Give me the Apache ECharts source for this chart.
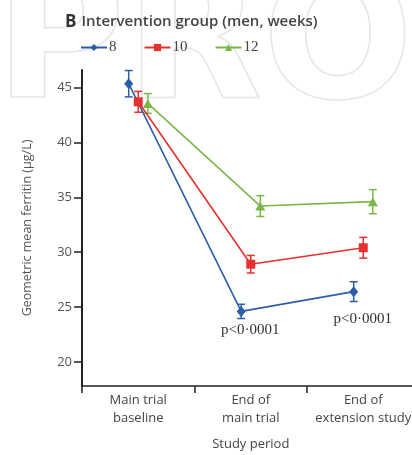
<!DOCTYPE html>
<html>
<head>
<meta charset="utf-8">
<script src="https://cdn.jsdelivr.net/npm/echarts@6/dist/echarts.min.js"></script>
<style>
  html, body { margin: 0; padding: 0; background: #fff; }
  #chart { width: 412px; height: 455px; }
</style>
</head>
<body>
<div id="chart"></div>
<script>
var categories = ['Main trial\nbaseline', 'End of\nmain trial', 'End of\nextension study'];
var groups = ['8', '10', '12'];
var mean8 = [45.35, 24.6, 26.4];
var err8 = [1.2, 0.65, 0.9];
var mean10 = [43.7, 28.9, 30.4];
var err10 = [0.95, 0.8, 0.95];
var mean12 = [43.55, 34.2, 34.6];
var err12 = [0.9, 0.95, 1.1];
var yTicks = [20, 25, 30, 35, 40, 45];
var pLabels = ['', 'p<0·0001', 'p<0·0001'];

(function() {
  var colors = ['#2b5ea7', '#e8302f', '#7ab648'];
  var symbols = ['diamond', 'rect', 'triangle'];
  var symbolSizes = [[9, 11], 9, [10, 9]];
  var dodge = [-0.085, 0, 0.085];
  var means = [mean8, mean10, mean12];
  var errs = [err8, err10, err12];
  var pOffsets = [[0, 0], [9, 19], [9, 27]];

  var chart = echarts.init(document.getElementById('chart'), null, { renderer: 'canvas' });

  var series = [];
  groups.forEach(function(g, s) {
    var pts = means[s].map(function(v, i) { return [i + 0.5 + dodge[s], v]; });
    var lineData = pts.map(function(p, i) {
      var d = { value: p };
      if (s === 0 && pLabels[i]) {
        d.label = {
          show: true, position: 'inside', offset: pOffsets[i],
          formatter: pLabels[i], color: '#333',
          fontFamily: 'Liberation Serif', fontSize: 15
        };
      }
      return d;
    });
    series.push({
      type: 'line',
      name: g,
      data: lineData,
      symbol: symbols[s],
      symbolSize: symbolSizes[s],
      showAllSymbol: true,
      lineStyle: { color: colors[s], width: 1.6 },
      itemStyle: { color: colors[s] },
      z: 4
    });
    // error bars
    series.push({
      type: 'custom',
      name: g + ' ci',
      data: pts.map(function(p, i) { return [p[0], p[1] - errs[s][i], p[1] + errs[s][i]]; }),
      renderItem: function(params, api) {
        var lo = api.coord([api.value(0), api.value(1)]);
        var hi = api.coord([api.value(0), api.value(2)]);
        var w = 4;
        var st = { stroke: colors[s], lineWidth: 1.5 };
        return {
          type: 'group',
          children: [
            { type: 'line', shape: { x1: lo[0], y1: lo[1], x2: hi[0], y2: hi[1] }, style: st },
            { type: 'line', shape: { x1: lo[0] - w, y1: lo[1], x2: lo[0] + w, y2: lo[1] }, style: st },
            { type: 'line', shape: { x1: hi[0] - w, y1: hi[1], x2: hi[0] + w, y2: hi[1] }, style: st }
          ]
        };
      },
      z: 3,
      silent: true
    });
  });

  chart.setOption({
    animation: false,
    color: colors,
    title: {
      left: 60,
      top: 8,
      text: '{b|B} {t|Intervention group (men, weeks)}',
      textStyle: {
        rich: {
          b: { fontFamily: 'Open Sans', fontSize: 17, fontWeight: 700, color: '#333' },
          t: { fontFamily: 'Open Sans', fontSize: 15, fontWeight: 600, color: '#444' }
        }
      }
    },
    legend: {
      left: 75,
      top: 35,
      itemWidth: 26,
      itemHeight: 9,
      itemGap: 27,
      data: groups,
      textStyle: { fontFamily: 'Liberation Serif', fontSize: 15, color: '#444', padding: [0, 0, 0, -3] }
    },
    graphic: [{
      type: 'text',
      left: -6,
      top: -39,
      z: -10,
      silent: true,
      style: {
        text: 'PRO',
        font: 'bold 178px "DejaVu Sans"',
        fill: 'rgba(0,0,0,0)',
        stroke: '#e3e8ee',
        lineWidth: 1.6
      }
    }],
    grid: { left: 82, right: -7.5, top: 70, bottom: 69, outerBoundsMode: 'none' },
    xAxis: {
      type: 'value',
      min: 0,
      max: 3,
      name: 'Study period',
      nameLocation: 'middle',
      nameGap: 52,
      nameTextStyle: { fontFamily: 'Open Sans', fontSize: 13, color: '#444' },
      axisLine: { lineStyle: { color: '#222', width: 1.5 } },
      axisTick: { customValues: [0, 1, 2, 3], length: 7, lineStyle: { color: '#222', width: 1.5 } },
      axisLabel: {
        customValues: [0.5, 1.5, 2.5],
        formatter: function(v) { return categories[Math.floor(v)]; },
        fontFamily: 'Open Sans', fontSize: 13, color: '#444', lineHeight: 18, margin: 5
      },
      splitLine: { show: false }
    },
    yAxis: {
      type: 'value',
      min: 17.8,
      max: 46.6,
      name: 'Geometric mean ferritin (μg/L)',
      nameLocation: 'middle',
      nameGap: 48,
      nameTextStyle: { fontFamily: 'Open Sans', fontSize: 12.5, color: '#555' },
      axisLine: { show: true, lineStyle: { color: '#222', width: 2 } },
      axisTick: { show: true, customValues: yTicks, length: 8, lineStyle: { color: '#222', width: 1.5 } },
      axisLabel: { customValues: yTicks, fontFamily: 'Open Sans', fontSize: 13, color: '#555', margin: 10 },
      splitLine: { show: false }
    },
    series: series
  });
  window.addEventListener('resize', function() { chart.resize(); });
})();
</script>
</body>
</html>
